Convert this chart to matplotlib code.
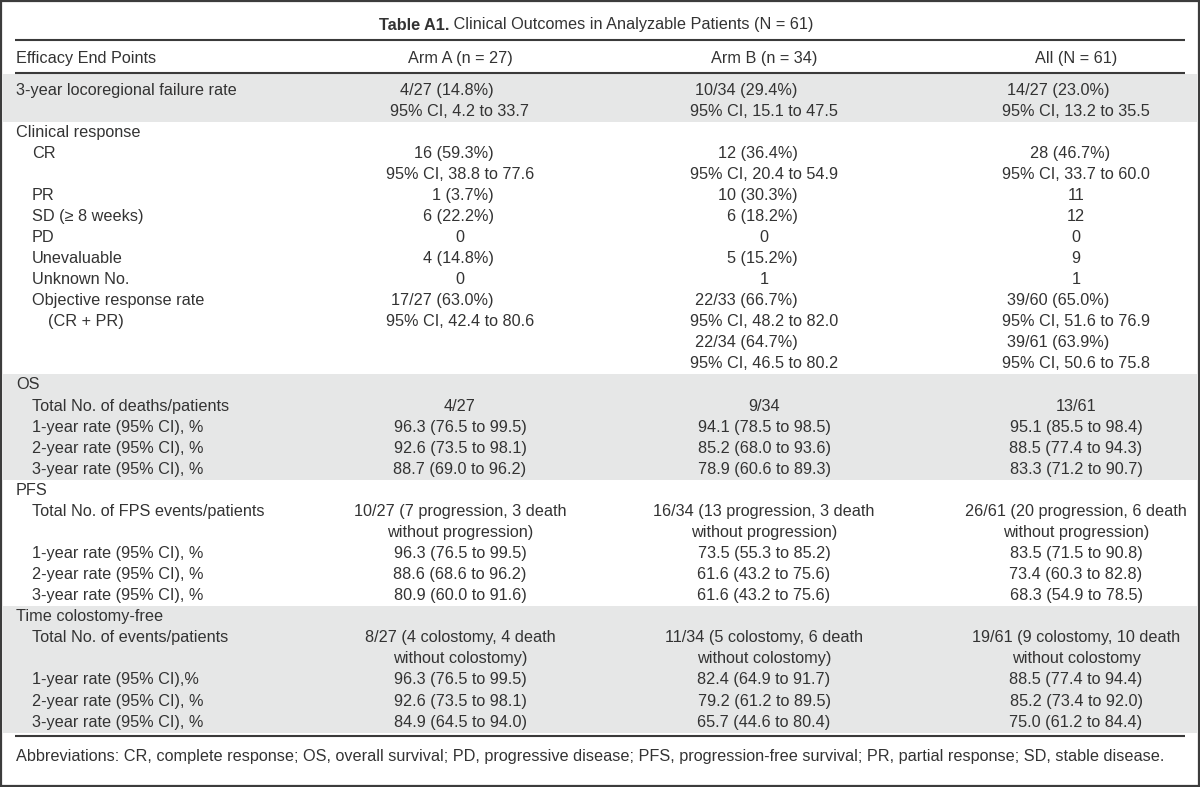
import re
import matplotlib
matplotlib.use("Agg")
import matplotlib.pyplot as plt
from matplotlib.patches import Rectangle
from matplotlib.font_manager import FontProperties

# table content, one entry per printed line
title_bold = "Table A1."
title_rest = " Clinical Outcomes in Analyzable Patients (N = 61)"
col_heads = ["Efficacy End Points", "Arm A (n = 27)", "Arm B (n = 34)", "All (N = 61)"]

labels = ["3-year locoregional failure rate", "",
          "Clinical response", "CR", "", "PR", "SD (\u2265 8 weeks)", "PD",
          "Unevaluable", "Unknown No.", "Objective response rate", "(CR + PR)", "", "",
          "OS", "Total No. of deaths/patients", "1-year rate (95% CI), %",
          "2-year rate (95% CI), %", "3-year rate (95% CI), %",
          "PFS", "Total No. of FPS events/patients", "", "1-year rate (95% CI), %",
          "2-year rate (95% CI), %", "3-year rate (95% CI), %",
          "Time colostomy-free", "Total No. of events/patients", "",
          "1-year rate (95% CI),%", "2-year rate (95% CI), %", "3-year rate (95% CI), %"]
levels = [0, 0, 0, 1, 1, 1, 1, 1, 1, 1, 1, 2, 0, 0,
          0, 1, 1, 1, 1, 0, 1, 1, 1, 1, 1, 0, 1, 1, 1, 1, 1]

arm_a = ["4/27 (14.8%)", "95% CI, 4.2 to 33.7",
         "", "16 (59.3%)", "95% CI, 38.8 to 77.6", "1 (3.7%)", "6 (22.2%)", "0",
         "4 (14.8%)", "0", "17/27 (63.0%)", "95% CI, 42.4 to 80.6", "", "",
         "", "4/27", "96.3 (76.5 to 99.5)", "92.6 (73.5 to 98.1)", "88.7 (69.0 to 96.2)",
         "", "10/27 (7 progression, 3 death", "without progression)",
         "96.3 (76.5 to 99.5)", "88.6 (68.6 to 96.2)", "80.9 (60.0 to 91.6)",
         "", "8/27 (4 colostomy, 4 death", "without colostomy)",
         "96.3 (76.5 to 99.5)", "92.6 (73.5 to 98.1)", "84.9 (64.5 to 94.0)"]
arm_b = ["10/34 (29.4%)", "95% CI, 15.1 to 47.5",
         "", "12 (36.4%)", "95% CI, 20.4 to 54.9", "10 (30.3%)", "6 (18.2%)", "0",
         "5 (15.2%)", "1", "22/33 (66.7%)", "95% CI, 48.2 to 82.0",
         "22/34 (64.7%)", "95% CI, 46.5 to 80.2",
         "", "9/34", "94.1 (78.5 to 98.5)", "85.2 (68.0 to 93.6)", "78.9 (60.6 to 89.3)",
         "", "16/34 (13 progression, 3 death", "without progression)",
         "73.5 (55.3 to 85.2)", "61.6 (43.2 to 75.6)", "61.6 (43.2 to 75.6)",
         "", "11/34 (5 colostomy, 6 death", "without colostomy)",
         "82.4 (64.9 to 91.7)", "79.2 (61.2 to 89.5)", "65.7 (44.6 to 80.4)"]
all_pts = ["14/27 (23.0%)", "95% CI, 13.2 to 35.5",
           "", "28 (46.7%)", "95% CI, 33.7 to 60.0", "11", "12", "0",
           "9", "1", "39/60 (65.0%)", "95% CI, 51.6 to 76.9",
           "39/61 (63.9%)", "95% CI, 50.6 to 75.8",
           "", "13/61", "95.1 (85.5 to 98.4)", "88.5 (77.4 to 94.3)", "83.3 (71.2 to 90.7)",
           "", "26/61 (20 progression, 6 death", "without progression)",
           "83.5 (71.5 to 90.8)", "73.4 (60.3 to 82.8)", "68.3 (54.9 to 78.5)",
           "", "19/61 (9 colostomy, 10 death", "without colostomy",
           "88.5 (77.4 to 94.4)", "85.2 (73.4 to 92.0)", "75.0 (61.2 to 84.4)"]

shaded = [(0, 1), (14, 18), (25, 30)]   # first/last line of grey blocks
footnote = ("Abbreviations: CR, complete response; OS, overall survival; PD, progressive disease; "
            "PFS, progression-free survival; PR, partial response; SD, stable disease.")

# layout (pixels)
W, H = 1200, 787
FONT = "Liberation Sans"
FS = 11.7
TXT = "#333333"
y0, dy = 90, 21.07
col_x = [460, 764, 1076]
indent = [16, 32, 48]

fig = plt.figure(figsize=(12, 7.87), dpi=100)
ax = fig.add_axes([0, 0, 1, 1])
ax.set_xlim(0, W)
ax.set_ylim(H, 0)
ax.axis("off")
rend = fig.canvas.get_renderer()
fp = FontProperties(family=FONT, size=FS)
fpb = FontProperties(family=FONT, size=FS, weight="bold")

def tw(s, prop=fp):
    w, h, d = rend.get_text_width_height_descent(s, prop, ismath=False)
    return w

def put(x, y, s, ha="left", prop=fp):
    ax.text(x, y, s, ha=ha, va="center", fontproperties=prop, color=TXT)

def row_y(i):
    return y0 + i * dy

# grey bands
for a, b in shaded:
    top = 73.5 if a == 0 else row_y(a) - dy / 2
    ax.add_patch(Rectangle((3, top), W - 6, row_y(b) + dy / 2 - top,
                           facecolor="#e6e7e7", edgecolor="none", zorder=0))

# rules
for yy in (39.5, 72.5, 735.5):
    ax.plot([15, 1185], [yy, yy], color="#3a3a3a", lw=1.5, solid_capstyle="butt")

# title
wb, wr = tw(title_bold, fpb), tw(title_rest)
tx = 596 - (wb + wr) / 2
put(tx, 25, title_bold, prop=fpb)
put(tx + wb, 25, title_rest)

# header
put(indent[0], 58, col_heads[0])
for cx, h in zip(col_x, col_heads[1:]):
    put(cx, 58, h, ha="center")

pct = re.compile(r"\(\d+\.\d%\)$")
for i, lab in enumerate(labels):
    y = row_y(i)
    if lab:
        put(indent[levels[i]], y, lab)
    for cx, col in zip(col_x, (arm_a, arm_b, all_pts)):
        s = col[i]
        if not s:
            continue
        if pct.search(s):
            # align on the decimal point inside the brackets
            put(cx - tw(s[:s.rfind(".")]), y, s)
        else:
            put(cx, y, s, ha="center")

put(indent[0], 757, footnote)

# outer frame
ax.add_patch(Rectangle((1, 1), W - 2, H - 2, facecolor="none",
                       edgecolor="#3c3c3c", lw=1.6, zorder=5))

fig.savefig("out.png", dpi=100)
